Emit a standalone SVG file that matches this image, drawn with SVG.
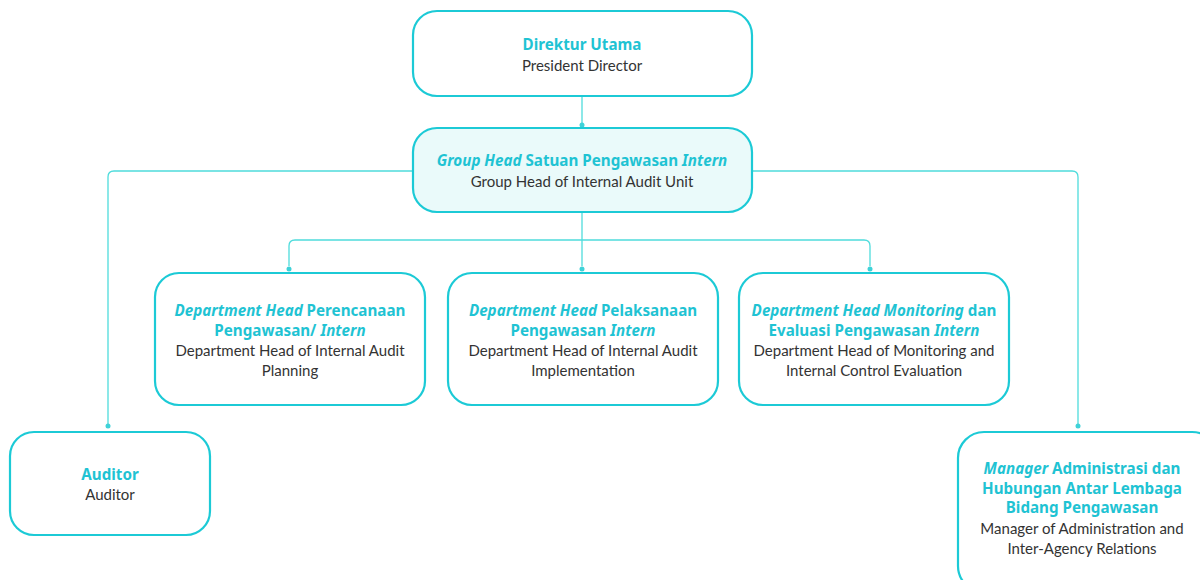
<svg xmlns="http://www.w3.org/2000/svg" width="1200" height="580" viewBox="0 0 1200 580">
<style>
.box{fill:#fff;stroke:#1ccad6;stroke-width:2.2}
.hl{fill:#eafafa}
.con{fill:none;stroke:#4fdcdc;stroke-width:1.3}
.dot{fill:#3fd2d8}
text{font-family:Lato,"Noto Sans",sans-serif;font-size:15px;text-anchor:middle}
.t{fill:#1fc3d3;font-weight:bold;font-family:"Noto Sans",Lato,sans-serif;font-size:15.2px}
.s{fill:#333}
.i{font-style:italic}
</style>
<rect width="1200" height="580" fill="#fff"/>
<g id="connectors">
<path class="con" d="M582 96V125"/>
<path class="con" d="M582 212V240"/>
<path class="con" d="M289 266V246Q289 240 295 240H864Q870 240 870 246V266"/>
<path class="con" d="M582 240V266"/>
<path class="con" d="M413 171H114Q108 171 108 177V426"/>
<path class="con" d="M752 171H1072Q1078 171 1078 177V426"/>
<circle class="dot" cx="582" cy="125" r="2.5"/>
<circle class="dot" cx="289" cy="269" r="2.5"/>
<circle class="dot" cx="582" cy="269" r="2.5"/>
<circle class="dot" cx="870" cy="269" r="2.5"/>
<circle class="dot" cx="108" cy="426" r="2.5"/>
<circle class="dot" cx="1078" cy="426" r="2.5"/>
</g>
<g id="president">
<rect class="box" x="413" y="11" width="339" height="85" rx="24"/>
<text class="t" x="582" y="50">Direktur Utama</text>
<text class="s" x="582" y="71">President Director</text>
</g>
<g id="grouphead">
<rect class="box hl" x="413" y="128" width="339" height="84" rx="24"/>
<text class="t" x="582" y="166"><tspan class="i">Group Head</tspan> Satuan Pengawasan <tspan class="i">Intern</tspan></text>
<text class="s" x="582" y="187">Group Head of Internal Audit Unit</text>
</g>
<g id="dept1">
<rect class="box" x="155" y="273" width="270" height="132" rx="24"/>
<text class="t" x="290" y="316"><tspan class="i">Department Head</tspan> Perencanaan</text>
<text class="t" x="290" y="336">Pengawasan/ <tspan class="i">Intern</tspan></text>
<text class="s" x="290" y="356">Department Head of Internal Audit</text>
<text class="s" x="290" y="376">Planning</text>
</g>
<g id="dept2">
<rect class="box" x="448" y="273" width="270" height="132" rx="24"/>
<text class="t" x="583" y="316"><tspan class="i">Department Head</tspan> Pelaksanaan</text>
<text class="t" x="583" y="336">Pengawasan <tspan class="i">Intern</tspan></text>
<text class="s" x="583" y="356">Department Head of Internal Audit</text>
<text class="s" x="583" y="376">Implementation</text>
</g>
<g id="dept3">
<rect class="box" x="739" y="273" width="270" height="132" rx="24"/>
<text class="t" x="874" y="316"><tspan class="i">Department Head Monitoring</tspan> dan</text>
<text class="t" x="874" y="336">Evaluasi Pengawasan <tspan class="i">Intern</tspan></text>
<text class="s" x="874" y="356">Department Head of Monitoring and</text>
<text class="s" x="874" y="376">Internal Control Evaluation</text>
</g>
<g id="auditor">
<rect class="box" x="10" y="432" width="200" height="103" rx="24"/>
<text class="t" x="110" y="480">Auditor</text>
<text class="s" x="110" y="500">Auditor</text>
</g>
<g id="manager">
<rect class="box" x="958" y="432" width="260" height="160" rx="26"/>
<text class="t" x="1082" y="474"><tspan class="i">Manager</tspan> Administrasi dan</text>
<text class="t" x="1082" y="494">Hubungan Antar Lembaga</text>
<text class="t" x="1082" y="513">Bidang Pengawasan</text>
<text class="s" x="1082" y="534">Manager of Administration and</text>
<text class="s" x="1082" y="554">Inter-Agency Relations</text>
</g>
</svg>
